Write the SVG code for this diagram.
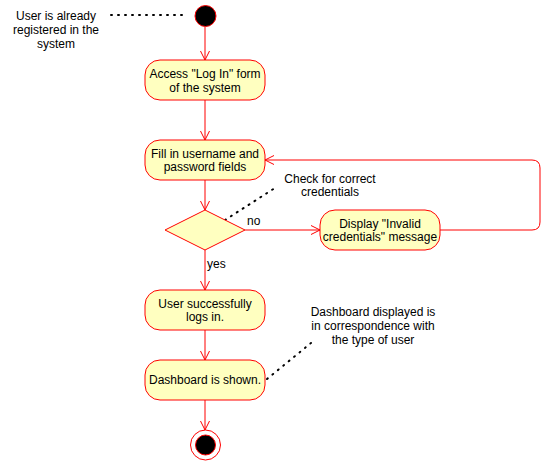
<svg xmlns="http://www.w3.org/2000/svg" width="551" height="461" viewBox="0 0 551 461">
<style>
text{font-family:"Liberation Sans",Arial,sans-serif;font-size:12px;fill:#000;}
.c{text-anchor:middle;dominant-baseline:central;}
.act{fill:#ffffc0;stroke:#ff0000;stroke-width:1;}
.edge{fill:none;stroke:#ff0000;stroke-width:1;}
.note{fill:none;stroke:#000;stroke-width:2;stroke-dasharray:1 6;stroke-linecap:round;}
</style>
<defs>
<marker id="arr" viewBox="0 0 10 10" refX="10" refY="5" markerWidth="10" markerHeight="10" markerUnits="userSpaceOnUse" orient="auto">
<path d="M1,0.5 L10,5 L1,9.5" fill="none" stroke="#ff0000" stroke-width="1"/>
</marker>
</defs>
<rect width="551" height="461" fill="#fff"/>
<g id="connectors">
<path class="edge" d="M205,27 V60" marker-end="url(#arr)"/>
<path class="edge" d="M205,100 V140" marker-end="url(#arr)"/>
<path class="edge" d="M205,180 V210" marker-end="url(#arr)"/>
<path class="edge" d="M245,230 H320" marker-end="url(#arr)"/>
<path class="edge" d="M440,230 H532 Q540,230 540,222 V168 Q540,160 532,160 H265" marker-end="url(#arr)"/>
<path class="edge" d="M205,250 V290" marker-end="url(#arr)"/>
<path class="edge" d="M205,330 V360" marker-end="url(#arr)"/>
<path class="edge" d="M205,400 V430" marker-end="url(#arr)"/>
<path class="note" d="M111,15 H187"/>
<path class="note" d="M225,220 L278,186"/>
<path class="note" d="M267,379 L311,343"/>
<text x="247" y="221" class="c" style="text-anchor:start">no</text>
<text x="207" y="264" class="c" style="text-anchor:start">yes</text>
</g>
<g id="start"><circle cx="205.5" cy="16" r="10.5" fill="#000" stroke="#ff0000"/></g>
<g id="note1"><text class="c" x="56" y="16">User is already</text><text class="c" x="56" y="30">registered in the</text><text class="c" x="56" y="44">system</text></g>
<g id="access"><rect class="act" x="145" y="60" width="120" height="40" rx="15"/><text class="c" x="205" y="74">Access "Log In" form</text><text class="c" x="205" y="88">of the system</text></g>
<g id="fill"><rect class="act" x="145" y="140" width="120" height="40" rx="15"/><text class="c" x="205" y="154">Fill in username and</text><text class="c" x="205" y="167">password fields</text></g>
<g id="decision"><path class="act" d="M205,210 L245,230 L205,250 L165,230 Z"/></g>
<g id="note2"><text class="c" x="330" y="179">Check for correct</text><text class="c" x="330" y="192">credentials</text></g>
<g id="invalid"><rect class="act" x="320" y="210" width="120" height="40" rx="15"/><text class="c" x="380" y="224">Display "Invalid</text><text class="c" x="380" y="237">credentials" message</text></g>
<g id="success"><rect class="act" x="145" y="290" width="120" height="40" rx="15"/><text class="c" x="205" y="304">User successfully</text><text class="c" x="205" y="317">logs in.</text></g>
<g id="dashboard"><rect class="act" x="145" y="360" width="120" height="40" rx="15"/><text class="c" x="205" y="380">Dashboard is shown.</text></g>
<g id="note3"><text class="c" x="373" y="312">Dashboard displayed is</text><text class="c" x="373" y="326">in correspondence with</text><text class="c" x="373" y="340">the type of user</text></g>
<g id="end"><circle cx="205.5" cy="445" r="15" fill="#fff" stroke="#ff0000"/><circle cx="205.5" cy="445" r="10" fill="#000" stroke="#ff0000"/></g>
</svg>
